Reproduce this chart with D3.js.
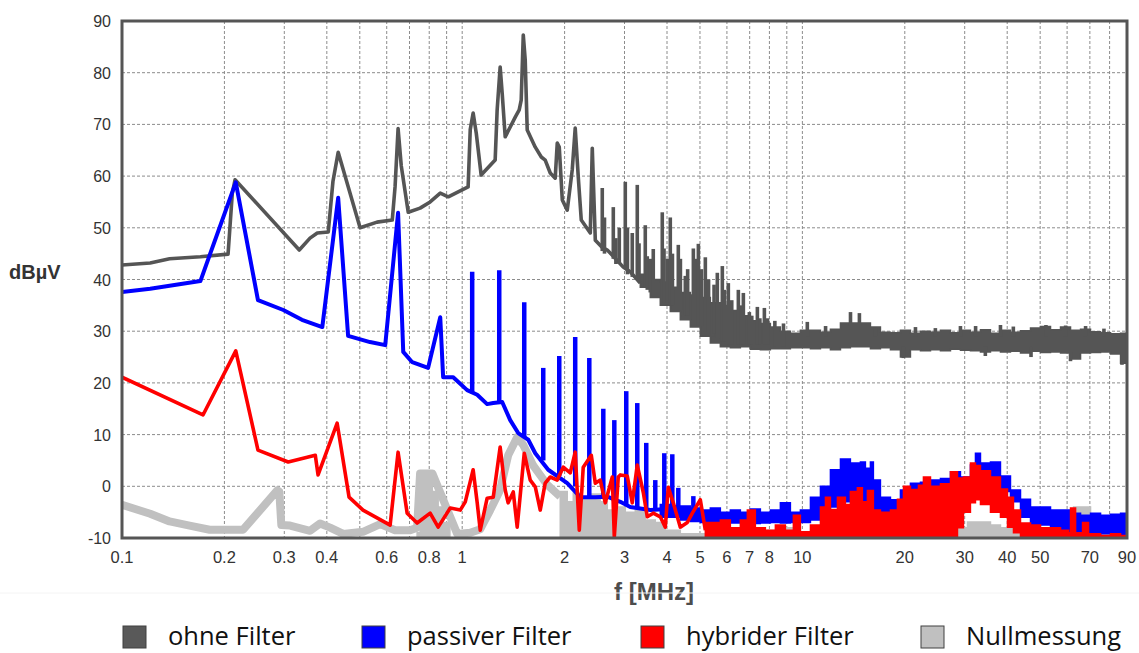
<!DOCTYPE html>
<html>
<head>
<meta charset="utf-8">
<script src="https://cdn.jsdelivr.net/npm/d3@7"></script>
<style>
body { margin: 0; background: #fff; }
svg { display: block; }
</style>
</head>
<body>
<div id="chart"></div>
<script>
// tick labels and grid
var xTicks = [0.1, 0.2, 0.3, 0.4, 0.6, 0.8, 1, 2, 3, 4, 5, 6, 7, 8, 10, 20, 30, 40, 50, 70, 90];
var xGrid = [0.2, 0.3, 0.4, 0.5, 0.6, 0.7, 0.8, 0.9, 1, 2, 3, 4, 5, 6, 7, 8, 9, 10, 20, 30, 40, 50, 60, 70, 80];
var yTicks = [-10, 0, 10, 20, 30, 40, 50, 60, 70, 80, 90];

var legendNames = ["ohne Filter", "passiver Filter", "hybrider Filter", "Nullmessung"];
var legendColors = ["#595959", "#0000ff", "#ff0000", "#c0c0c0"];

// ohne Filter: [f MHz, dBuV]
var ohneLine = [[0.100,42.8],[0.121,43.2],[0.138,44.0],[0.170,44.4],[0.205,44.9],[0.211,56.7],[0.215,59.3],
  [0.332,45.7],[0.357,48.0],[0.375,49.0],[0.404,49.2],[0.417,59.0],[0.432,64.6],[0.501,50.0],[0.562,51.1],
  [0.623,51.5],[0.635,58.0],[0.648,69.2],[0.662,62.0],[0.694,53.0],[0.752,53.8],[0.805,55.0],[0.862,56.7],
  [0.910,56.0],[1.041,57.9],[1.056,69.0],[1.077,72.2],[1.100,68.3],[1.137,60.2],[1.250,63.1],[1.267,72.8],
  [1.293,81.1],[1.311,76.0],[1.338,67.6],[1.432,71.4],[1.471,72.8],[1.491,74.7],[1.512,87.3],[1.532,82.5],
  [1.553,68.9],[1.640,65.6],[1.708,63.7],[1.754,63.1],[1.815,60.6],[1.877,59.6],[1.903,66.4],[1.929,65.6],
  [1.969,55.4],[2.036,53.4],[2.106,61.2],[2.149,69.3],[2.194,59.8],[2.239,51.5],[2.380,49.0],[2.412,65.4],
  [2.462,47.6],[2.581,46.2],[2.670,45.7],[2.781,44.5],[2.975,42.4],[3.119,41.5],[3.338,39.3]];
// [f, low, high]
var ohneSpikes = [[2.581,45.5,57.7],[2.62,45,52],[2.781,44,54.0],[2.83,43,48],[2.896,43,50],[3.016,42,58.9],
  [3.06,41,50],[3.162,40.5,49],[3.271,40,58.3],[3.31,39.5,47],[3.453,38.5,50.5],[3.5,38,44.5],[3.572,37.5,44],
  [3.645,37,45.9],[3.874,36,53.0],[3.92,35.5,46],[4.008,35.5,44],[4.090,35,52.0],[4.15,35,45],[4.318,34,46.7],
  [4.38,34,44],[4.528,33,40.7],[4.6,33,42],[4.781,32,46.0],[4.85,32,44],[4.946,31,46.9],[5.05,31,42],
  [5.185,30,44.3],[5.3,30,40],[5.436,29,35.5],[5.5,29.5,39],[5.623,28.5,41.3],[5.817,28,42.6],[5.9,28,38],
  [6.058,27.5,39.3],[6.2,27.5,36],[6.483,27.5,38.0],[6.6,27.5,35],[6.707,27.5,37.4],[6.984,27.5,33.7],
  [7.1,27.5,33],[7.374,27.5,34.7],[7.5,27.5,32.5],[7.732,27.5,34.5],[7.9,27.5,32.5],[8.3,27,32],[8.8,27,31.5],
  [10.34,29,31.8],[11.7,29,31],[13.85,31,33.7],[14.71,31,33.5],
  [16.4,29,30.8],[19.8,24.8,27],[21.5,29,30.8],[24.6,29,30.6],[29.15,29,31],[32.3,29,31.0],[34.5,25.2,27],
  [38.22,29,31.2],[41.7,29,30.9],[47,25,27],[52,29,31.2],[59.4,29,31.1],[61.4,24.2,26],[68,29,31],
  [77,29,30.5],[87,23.5,26]];
var ohneBand = [[3.338,38.5,41],[3.572,36.5,40],[3.822,35,39.5],[4.090,33.8,38.5],[4.377,32.2,37.5],
  [4.684,30.8,37],[5.012,29,36.5],[5.363,27.7,35.5],[5.739,27,35],[6.141,26.8,34],[6.572,27,33],
  [7.032,26.5,32],[7.525,26.4,31.5],[8.052,26.6,30.8],[8.616,26.6,30],[9.220,26.8,29.6],[9.866,26.8,30.2],
  [10.56,26.6,30.2],[11.30,26.8,29.8],[12.09,26.4,30.4],[12.94,26.8,31.6],[13.84,27,31.6],[14.81,27,31.6],
  [15.85,26.6,30.8],[16.96,26.8,29.8],[18.15,26.4,29.7],[19.42,25,30.2],[20.78,26.4,29.6],[22.24,26.2,30],
  [23.80,26.4,29.8],[25.46,26.2,30.2],[27.25,26.5,29.7],[29.15,26.3,30.2],[31.19,26.2,29.8],[33.38,26,30.3],
  [35.72,26.2,29.6],[38.22,26,30.2],[40.90,26.1,29.8],[43.77,25.8,30.1],[46.84,26.1,30.6],[50.12,25.9,30.9],
  [53.63,26,30.3],[57.39,25.8,30.8],[61.41,24.6,30.2],[65.72,25.8,30.4],[70.32,25.9,29.9],[75.25,26,29.7],
  [80.52,25.6,29.5],[86.16,23.8,29.6],[90,25.3,29.2]];

// passiver Filter
var passivLine = [[0.100,37.6],[0.121,38.2],[0.170,39.7],[0.216,58.8],[0.251,36.0],[0.298,34.1],[0.338,32.2],
  [0.388,30.8],[0.432,55.8],[0.462,29.1],[0.536,27.9],[0.594,27.3],[0.648,52.9],[0.671,26.0],[0.713,24.0],
  [0.794,22.9],[0.862,32.7],[0.879,21.1],[0.941,21.1],[1.034,18.6],[1.107,17.7],[1.184,15.9],[1.234,16.1],
  [1.311,16.3],[1.384,12.8],[1.461,10.3],[1.564,9.0],[1.640,6.4],[1.790,3.2],[2.036,0.6],[2.224,-2.1],
  [2.462,-2.1],[2.670,-2.0],[2.916,-3.0],[3.119,-4.0],[3.572,-4.6],[4.035,-4.4],[4.377,-5.0],[4.946,-5.0]];
var passivSpikes = [[1.070,18,41.5],[1.285,16.2,41.8],[1.522,9.5,35.6],[1.731,5,22.9],[1.929,2,25.2],
  [2.149,0,28.9],[2.364,-2,24.8],[2.599,-2,15.0],[2.800,-3,12.8],[3.036,-3.5,18.4],[3.271,-4,16.1],
  [3.476,-4.5,8.4],[3.695,-4.5,1.2],[3.927,-4.5,6.4],[4.146,-4.5,6.2],[4.318,-5,-0.3],[4.781,-5,-1.9]];
var passivBand = [[3.822,-6,-3.5],[4.090,-6,-3.8],[4.377,-6.5,-3.8],[4.684,-6.8,-4.2],[5.012,-7,-4.6],
  [5.363,-7.1,-4.2],[5.739,-6.8,-5],[6.141,-7.1,-4.6],[6.572,-7,-5],[7.032,-7.2,-4.4],[7.525,-7.1,-5],
  [8.052,-7,-4.6],[8.616,-7.1,-3.2],[9.220,-7,-5],[9.866,-7,-4.6],[10.56,-6.5,-2.1],[11.30,-5,0],
  [12.09,-4,3.2],[12.94,-3,5.3],[13.84,-3,4.5],[14.81,-3,4.7],[15.32,-3,3.5],[15.85,-4,4.7],[16.17,-5,1.2],
  [16.96,-6,-2.1],[18.15,-6,-2.6],[19.42,-5,-0.7],[20.78,-5,0.6],[22.24,-5,0.8],[23.80,-5,1.2],
  [25.46,-5,1.5],[27.25,-5,2.8],[29.15,0,1.8],[31.19,3,4.1],[32.27,3,6.4],[33.38,2.5,4.5],[35.72,1,4.7],
  [38.22,-1,2],[40.90,-3,-0.7],[43.77,-6,-2.5],[46.84,-7.5,-4],[50.12,-7.5,-4],[53.63,-8.5,-4.6],
  [57.39,-9,-4.6],[61.41,-9.2,-5.2],[65.72,-9.3,-5.6],[70.32,-9.4,-5.2],[75.25,-9.2,-5.6],[80.52,-9.5,-5.4],
  [86.16,-9.5,-5.2],[90,-9.5,-5.2]];

// hybrider Filter
var hybridLine = [[0.100,21.1],[0.173,13.8],[0.216,26.2],[0.251,7.0],[0.308,4.7],[0.370,6.0],[0.377,2.2],
  [0.429,12.2],[0.465,-2.1],[0.511,-4.6],[0.614,-7.5],[0.648,6.6],[0.689,-5.2],[0.737,-7.1],[0.805,-5.2],
  [0.850,-7.9],[0.922,-4.2],[0.987,-4.6],[1.021,-3.0],[1.077,3.2],[1.107,-3.2],[1.130,-8.5],[1.184,-2.3],
  [1.234,-2.1],[1.293,7.6],[1.338,-0.7],[1.365,-3.2],[1.413,-1.1],[1.451,-7.9],[1.522,6.4],[1.585,1.2],
  [1.640,-0.1],[1.696,-4.6],[1.754,0.6],[1.815,1.8],[1.903,1.2],[1.982,3.7],[2.078,2.6],[2.149,6.6],
  [2.209,-8.5],[2.269,3.7],[2.396,6.0],[2.462,0.6],[2.546,1.2],[2.634,-3.2],[2.762,1.8],[2.800,-9.8],
  [2.876,1.8],[2.916,2.2],[3.057,2.0],[3.162,-3.2],[3.271,4.1],[3.407,-1.2],[3.500,-5.9],[3.645,-5.2],
  [3.822,-5.9],[3.954,-7.9],[4.035,-0.2],[4.174,-3.2],[4.377,-7.9],[4.590,-7.0],[4.748,-5.2],[5.012,-2.6],
  [5.185,-8.5]];
var hybridBand = [[5.185,-10,-7],[5.363,-10,-7],[5.739,-10,-6.5],[6.141,-10,-8],[6.572,-10,-6.5],
  [6.890,-10,-4.6],[7.274,-10,-8],[7.784,-10,-8.5],[8.329,-10,-7.5],[8.913,-10,-8.5],[9.409,-10,-5.6],
  [9.866,-10,-8.8],[10.56,-10,-7.5],[11.30,-10,-4],[11.69,-10,-2.1],[12.09,-10,-4.5],[12.68,-10,-2.1],
  [13.38,-10,-3.5],[13.84,-10,-1],[14.51,-10,-0.3],[15.01,-10,-3],[15.53,-10,-0.8],[16.17,-10,-4.6],
  [16.96,-10,-5],[18.15,-10,-4.6],[19.03,-10,-2.5],[19.82,-10,0],[20.78,-10,-0.6],[21.94,-10,0.2],
  [22.69,-10,1.8],[23.80,-10,0],[25.46,-10,0.5],[27.25,-10,2.8],[28.57,-8,1.6],[29.75,-5,1.8],
  [31.19,-3.2,4.5],[32.27,-2.6,4],[33.38,-3.5,3],[35.72,-5,1.8],[38.22,-6,-0.5],[40.08,-7.9,-2.1],
  [41.74,-9,-4.6],[43.77,-10,-7.1],[46.84,-10,-7.5],[50.12,-10,-8],[53.63,-10,-8],[57.39,-10,-8.5],
  [60.59,-10,-9],[61.41,-10,-4.2],[63.55,-10,-9],[66.62,-10,-7],[69.38,-10,-9.2],[75.25,-10,-9.5],
  [80.52,-10,-9.2],[86.16,-10,-9.5],[90,-10,-9.5]];

// Nullmessung
var nullLine = [[0.100,-3.6],[0.121,-5.3],[0.138,-6.8],[0.158,-7.6],[0.181,-8.4],[0.227,-8.4],[0.286,-0.8],
  [0.290,-1.0],[0.294,-7.5],[0.312,-7.6],[0.357,-8.6],[0.382,-7.2],[0.409,-8.0],[0.447,-9.2],[0.511,-8.8],
  [0.574,-7.3],[0.635,-8.5],[0.703,-8.5],[0.737,-8.0],[0.752,2.5],[0.817,2.5],[0.967,-9.2],[1.056,-9.0],
  [1.130,-8.3],[1.209,-4.6],[1.293,-0.7],[1.365,6.0],[1.451,9.5],[1.512,8.0],[1.618,4.0],[1.778,0.3],
  [1.942,-2.0]];
var nullBand = [[0.737,-10,-9],[0.752,-10,3],[0.817,-10,-1],[0.85,-10,-4],[0.88,-10,-7],[0.92,-10,-10],
  [1.942,-10,-1],[2.036,-10,-3],[2.121,-10,-1.3],[2.224,-10,-2],[2.380,-10,-1.5],[2.546,-10,-3],
  [2.670,-10,-4.6],[2.818,-10,-4],[3.016,-10,-5],[3.227,-10,-4.6],[3.453,-10,-6.5],[3.695,-10,-7],
  [3.954,-10,-8.5],[4.377,-10,-9.2],[7.374,-10,-9],[7.890,-10,-8.5],[8.443,-10,-8],[9.034,-10,-8],
  [9.866,-10,-9.2],[27.25,-10,-9],[28.57,-10,-8],[30.57,-10,-6.9],[33.38,-10,-6.9],[35.72,-10,-7.5],
  [38.22,-10,-8],[41.74,-10,-8],[43.77,-10,-9.2],[62.69,-10,-4],[70.32,-10,-8.5],[72.74,-10,-9.2],
  [90,-10,-9.2]];

var width = 1139, height = 653;
var plot = { left: 122, right: 1127, top: 21, bottom: 538 };

var svg = d3.select("#chart").append("svg")
  .attr("width", width)
  .attr("height", height);

var x = d3.scaleLog().domain([0.1, 90]).range([plot.left, plot.right]);
var y = d3.scaleLinear().domain([-10, 90]).range([plot.bottom, plot.top]);

svg.append("clipPath").attr("id", "clip")
  .append("rect")
  .attr("x", plot.left).attr("y", plot.top)
  .attr("width", plot.right - plot.left).attr("height", plot.bottom - plot.top);

// grid
svg.append("g").selectAll("line").data(xGrid).enter().append("line")
  .attr("x1", function (d) { return x(d); }).attr("x2", function (d) { return x(d); })
  .attr("y1", plot.top).attr("y2", plot.bottom)
  .attr("stroke", "#8c8c8c").attr("stroke-dasharray", "3,2");
svg.append("g").selectAll("line").data(yTicks).enter().append("line")
  .attr("x1", plot.left).attr("x2", plot.right)
  .attr("y1", function (d) { return y(d); }).attr("y2", function (d) { return y(d); })
  .attr("stroke", "#8c8c8c").attr("stroke-dasharray", "3,2");

var lineGen = d3.line()
  .x(function (d) { return x(d[0]); })
  .y(function (d) { return y(d[1]); });
var bandGen = d3.area()
  .x(function (d) { return x(d[0]); })
  .y0(function (d) { return y(d[1]); })
  .y1(function (d) { return y(d[2]); })
  .curve(d3.curveStepAfter);

var g = svg.append("g").attr("clip-path", "url(#clip)");

function drawBand(data, color) {
  g.append("path").datum(data)
    .attr("d", bandGen)
    .attr("fill", color).attr("stroke", color).attr("stroke-width", 1.5);
}
function drawLine(data, color, w) {
  g.append("path").datum(data)
    .attr("d", lineGen)
    .attr("fill", "none").attr("stroke", color).attr("stroke-width", w)
    .attr("stroke-linejoin", "round");
}
function drawSpikes(data, color, w) {
  g.append("g").selectAll("line").data(data).enter().append("line")
    .attr("x1", function (d) { return x(d[0]); }).attr("x2", function (d) { return x(d[0]); })
    .attr("y1", function (d) { return y(d[1]); }).attr("y2", function (d) { return y(d[2]); })
    .attr("stroke", color).attr("stroke-width", w);
}

// Nullmessung
drawBand(nullBand, "#c0c0c0");
drawLine(nullLine, "#c0c0c0", 8);
// ohne Filter
drawBand(ohneBand, "#555555");
drawLine(ohneLine, "#555555", 3.6);
drawSpikes(ohneSpikes, "#555555", 3.6);
// passiver Filter
drawBand(passivBand, "#0000ff");
drawLine(passivLine, "#0000ff", 4);
drawSpikes(passivSpikes, "#0000ff", 4.5);
// hybrider Filter
drawBand(hybridBand, "#ff0000");
drawLine(hybridLine, "#ff0000", 3.6);

// frame
svg.append("rect")
  .attr("x", plot.left).attr("y", plot.top)
  .attr("width", plot.right - plot.left).attr("height", plot.bottom - plot.top)
  .attr("fill", "none").attr("stroke", "#555").attr("stroke-width", 3);

// tick labels
svg.append("g").selectAll("text").data(yTicks).enter().append("text")
  .attr("x", 111).attr("y", function (d) { return y(d) + 6; })
  .attr("text-anchor", "end")
  .style("font-family", "'Liberation Sans', Arial, sans-serif").style("font-size", "16px")
  .attr("fill", "#333")
  .text(function (d) { return d; });
svg.append("g").selectAll("text").data(xTicks).enter().append("text")
  .attr("x", function (d) { return x(d); }).attr("y", 563)
  .attr("text-anchor", "middle")
  .style("font-family", "'Liberation Sans', Arial, sans-serif").style("font-size", "16.5px")
  .attr("fill", "#333")
  .text(function (d) { return d; });

// axis titles
svg.append("text").attr("x", 9).attr("y", 279)
  .style("font-family", "'Liberation Sans', Arial, sans-serif").style("font-size", "20px")
  .style("font-weight", "bold").attr("fill", "#333").text("dBµV");
svg.append("text").attr("x", 654).attr("y", 600).attr("text-anchor", "middle")
  .style("font-family", "'Liberation Sans', Arial, sans-serif").style("font-size", "24px")
  .style("font-weight", "bold").attr("fill", "#4d4d4d").text("f [MHz]");

svg.append("line").attr("x1", 0).attr("x2", width).attr("y1", 593).attr("y2", 593)
  .attr("stroke", "#f4f4f4");

// legend
var legendX = [123, 362, 641, 921];
var legend = svg.append("g").selectAll("g").data(legendNames).enter().append("g")
  .attr("transform", function (d, i) { return "translate(" + legendX[i] + ",626)"; });
legend.append("rect")
  .attr("width", 23).attr("height", 22)
  .attr("fill", function (d, i) { return legendColors[i]; })
  .attr("stroke", "#404040").attr("stroke-width", 1);
legend.append("text")
  .attr("x", 45).attr("y", 19)
  .style("font-family", "'Open Sans', sans-serif").style("font-size", "25.5px")
  .attr("fill", "#111")
  .text(function (d) { return d; });
</script>
</body>
</html>
